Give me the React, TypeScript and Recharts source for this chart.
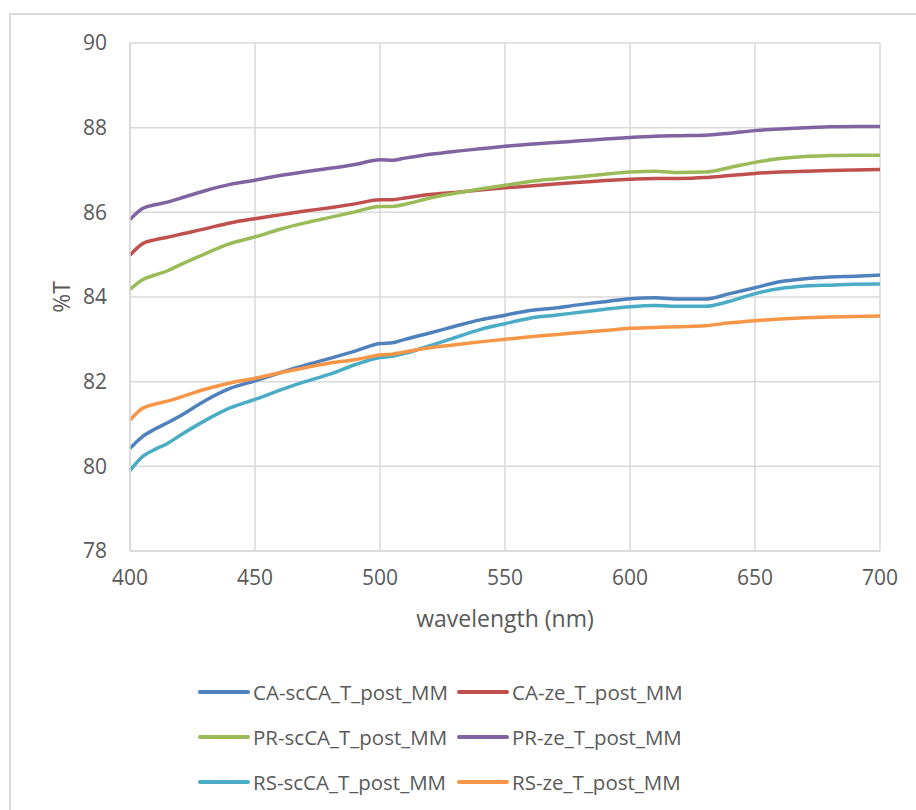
import React from 'react';
import {
  LineChart,
  Line,
  XAxis,
  YAxis,
  CartesianGrid,
  Legend,
  Label,
} from 'recharts';

// wavelength (nm)
const wavelengths = [
  400, 405, 410, 415, 420, 430, 440, 450, 460, 470, 480, 490, 500, 505, 510, 520, 530,
  540, 550, 560, 570, 580, 590, 600, 610, 620, 630, 640, 650, 660, 670, 680, 690, 700,
];

// %T per series
const caScCA = [
  80.42, 80.7, 80.88, 81.03, 81.19, 81.55, 81.84, 82.02, 82.21, 82.39, 82.55, 82.72, 82.9,
  82.92, 83.0, 83.15, 83.31, 83.46, 83.57, 83.68, 83.74, 83.82, 83.89, 83.96, 83.98, 83.95,
  83.95, 84.08, 84.22, 84.36, 84.43, 84.47, 84.49, 84.52,
];
const caZe = [
  84.99, 85.26, 85.35, 85.41, 85.48, 85.61, 85.75, 85.85, 85.94, 86.03, 86.11, 86.2, 86.3,
  86.3, 86.34, 86.42, 86.47, 86.53, 86.58, 86.62, 86.67, 86.71, 86.75, 86.78, 86.8, 86.8,
  86.82, 86.87, 86.92, 86.95, 86.97, 86.99, 87.0, 87.01,
];
const prScCA = [
  84.18, 84.41, 84.52, 84.62, 84.76, 85.02, 85.26, 85.42, 85.6, 85.75, 85.88, 86.01, 86.14,
  86.14, 86.19, 86.34, 86.45, 86.55, 86.64, 86.73, 86.79, 86.84, 86.9, 86.95, 86.97, 86.94,
  86.95, 87.06, 87.18, 87.27, 87.32, 87.34, 87.35, 87.35,
];
const prZe = [
  85.83, 86.09, 86.18, 86.24, 86.33, 86.51, 86.66, 86.76, 86.87, 86.96, 87.04, 87.13, 87.24,
  87.23, 87.28, 87.37, 87.44, 87.5, 87.56, 87.61, 87.65, 87.69, 87.73, 87.77, 87.8, 87.81,
  87.82, 87.87, 87.93, 87.97, 88.0, 88.02, 88.03, 88.03,
];
const rsScCA = [
  79.9, 80.23, 80.4, 80.54, 80.73, 81.08, 81.38, 81.58, 81.8, 82.0, 82.18, 82.4, 82.57,
  82.6, 82.67, 82.85, 83.04, 83.23, 83.37, 83.5, 83.57, 83.64, 83.71, 83.77, 83.8, 83.78,
  83.78, 83.9, 84.08, 84.2, 84.26, 84.28, 84.3, 84.31,
];
const rsZe = [
  81.09, 81.37, 81.47, 81.54, 81.63, 81.82, 81.97, 82.08, 82.21, 82.33, 82.44, 82.52, 82.63,
  82.65, 82.7, 82.8, 82.87, 82.94, 83.0, 83.06, 83.11, 83.16, 83.21, 83.26, 83.28, 83.3,
  83.32, 83.39, 83.44, 83.48, 83.51, 83.53, 83.54, 83.55,
];

const xTicks = [400, 450, 500, 550, 600, 650, 700];
const yTicks = [78, 80, 82, 84, 86, 88, 90];

const series = [
  { key: 'caScCA', name: 'CA-scCA_T_post_MM', color: '#4F81BD' },
  { key: 'caZe', name: 'CA-ze_T_post_MM', color: '#C0504D' },
  { key: 'prScCA', name: 'PR-scCA_T_post_MM', color: '#9BBB59' },
  { key: 'prZe', name: 'PR-ze_T_post_MM', color: '#8064A2' },
  { key: 'rsScCA', name: 'RS-scCA_T_post_MM', color: '#4BACC6' },
  { key: 'rsZe', name: 'RS-ze_T_post_MM', color: '#F79646' },
];

const data = wavelengths.map((wl, i) => ({
  wl,
  caScCA: caScCA[i],
  caZe: caZe[i],
  prScCA: prScCA[i],
  prZe: prZe[i],
  rsScCA: rsScCA[i],
  rsZe: rsZe[i],
}));

const FONT = '"Open Sans", sans-serif';
const TEXT = '#595959';
const GRID = '#d9d9d9';

function renderLegend() {
  return (
    <div
      style={{
        display: 'grid',
        gridTemplateColumns: '259px 259px',
        rowGap: 19,
        marginLeft: 198,
        fontFamily: FONT,
        fontSize: 20.5,
        color: TEXT,
      }}
    >
      {series.map(s => (
        <div key={s.key} style={{ display: 'flex', alignItems: 'center', height: 26, whiteSpace: 'nowrap' }}>
          <svg width={52} height={8} style={{ marginRight: 3 }}>
            <line x1={2} y1={4} x2={50} y2={4} stroke={s.color} strokeWidth={4} strokeLinecap="round" />
          </svg>
          <span>{s.name}</span>
        </div>
      ))}
    </div>
  );
}

export default function App() {
  return (
    <div
      style={{
        position: 'fixed',
        left: 0,
        top: 0,
        width: 916,
        height: 810,
        overflow: 'hidden',
        background: '#fff',
      }}
    >
      {/* chart area border, right/bottom edges fall outside the picture */}
      <div
        style={{
          position: 'absolute',
          left: 9,
          top: 13,
          width: 940,
          height: 840,
          border: `2px solid ${GRID}`,
        }}
      />
      <div style={{ position: 'absolute', left: 0, top: 0 }}>
        <LineChart
          width={916}
          height={810}
          data={data}
          margin={{ top: 43, right: 36, left: 70, bottom: 219 }}
        >
          <CartesianGrid stroke={GRID} strokeWidth={1.5} />
          <XAxis
            dataKey="wl"
            type="number"
            domain={[400, 700]}
            ticks={xTicks}
            height={40}
            tickLine={false}
            tickSize={6}
            tickMargin={13}
            axisLine={{ stroke: GRID, strokeWidth: 1.5 }}
            tick={{ fontSize: 21, fill: TEXT, fontFamily: FONT }}
          >
            <Label
              value="wavelength (nm)"
              position="bottom"
              offset={20}
              style={{ fontSize: 23, fill: TEXT, fontFamily: FONT }}
            />
          </XAxis>
          <YAxis
            type="number"
            domain={[78, 90]}
            ticks={yTicks}
            width={60}
            tickLine={false}
            tickSize={6}
            tickMargin={17}
            axisLine={{ stroke: GRID, strokeWidth: 1.5 }}
            tick={{ fontSize: 21, fill: TEXT, fontFamily: FONT }}
          >
            <Label
              value="%T"
              angle={-90}
              position="insideLeft"
              offset={-8}
              style={{ fontSize: 23, fill: TEXT, fontFamily: FONT, textAnchor: 'middle' }}
            />
          </YAxis>
          <Legend
            layout="horizontal"
            verticalAlign="middle"
            align="center"
            content={renderLegend}
            wrapperStyle={{ top: 679, left: 0, width: 916 }}
          />
          {series.map(s => (
            <Line
              key={s.key}
              type="monotone"
              dataKey={s.key}
              name={s.name}
              stroke={s.color}
              strokeWidth={3.5}
              dot={false}
              activeDot={false}
              isAnimationActive={false}
            />
          ))}
        </LineChart>
      </div>
    </div>
  );
}
